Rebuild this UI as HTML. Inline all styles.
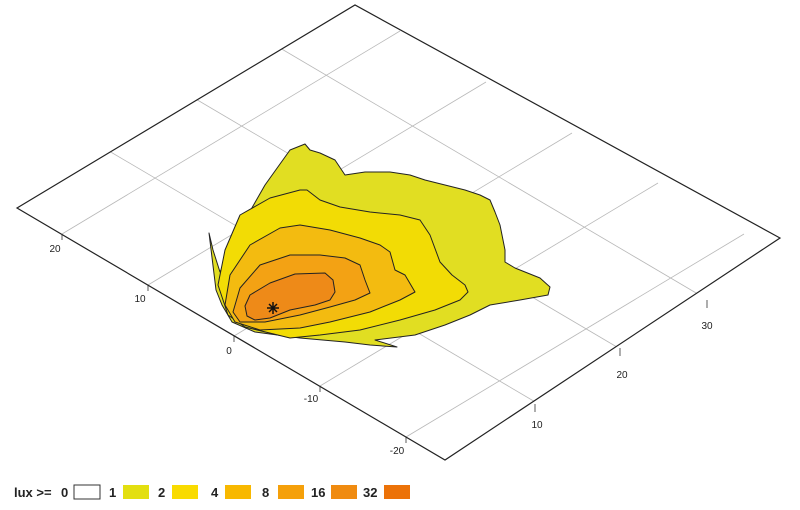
<!DOCTYPE html>
<html><head><meta charset="utf-8"><style>body{margin:0;background:#fff}svg{display:block}</style></head><body>
<svg width="800" height="510" viewBox="0 0 800 510" xmlns="http://www.w3.org/2000/svg" font-family="Liberation Sans, sans-serif">
<defs><clipPath id="pl"><polygon points="17,208 355,5 780,238 445,460"/></clipPath></defs>
<g clip-path="url(#pl)" stroke="#b8b8b8" stroke-width="0.8" fill="none">
<line x1="62" y1="234" x2="400" y2="31"/>
<line x1="148" y1="285" x2="486" y2="82"/>
<line x1="234" y1="336" x2="572" y2="133"/>
<line x1="320" y1="386" x2="658" y2="183"/>
<line x1="406" y1="437" x2="744" y2="234"/>
<line x1="537" y1="403" x2="109" y2="151"/>
<line x1="622" y1="350" x2="194" y2="98"/>
<line x1="708" y1="300" x2="280" y2="48"/>
</g>
<g stroke="#333" stroke-width="0.8">
<line x1="62" y1="234" x2="62" y2="240"/><line x1="148" y1="285" x2="148" y2="291"/><line x1="234" y1="336" x2="234" y2="342"/><line x1="320" y1="386" x2="320" y2="392"/><line x1="406" y1="437" x2="406" y2="443"/>
<line x1="535" y1="404" x2="535" y2="412"/><line x1="620" y1="348" x2="620" y2="356"/><line x1="707" y1="300" x2="707" y2="308"/>
</g>
<polygon points="17,208 355,5 780,238 445,460" fill="none" stroke="#222" stroke-width="1.2"/>
<g stroke="#222" stroke-width="1" stroke-linejoin="round">
<polygon fill="#e1de22" points="209,233 213,250 220,272 228,255 245,220 265,185 290,150 305,144 310,150 320,153 335,160 345,175 365,172 390,172 410,175 425,180 445,185 465,190 480,195 490,200 495,212 500,225 505,250 505,262 515,268 540,278 550,287 548,295 520,300 490,305 470,315 445,325 415,335 375,340 397,347 370,345 345,342 300,338 255,332 232,322 222,305 216,290"/>
<polygon fill="#f2dc05" points="218,285 225,250 240,215 270,198 300,190 307,190 320,200 340,207 370,212 400,215 420,220 430,235 440,262 452,275 465,285 468,292 460,300 435,310 400,320 360,330 320,335 290,338 245,327 228,315"/>
<polygon fill="#f3bb10" points="225,305 230,275 250,245 280,228 300,225 330,230 360,238 380,245 390,252 395,270 405,275 415,292 400,300 370,312 330,322 300,328 260,330 235,322"/>
<polygon fill="#f3a214" points="233,312 240,288 260,265 290,255 320,255 345,258 360,265 365,280 370,293 355,300 330,307 300,315 265,322 240,322"/>
<polygon fill="#ee8a18" points="245,306 250,295 270,283 295,274 325,273 333,280 335,292 330,300 315,305 290,310 270,318 255,320 247,316"/>
</g>
<g stroke="#111" stroke-width="1.5"><line x1="267" y1="308" x2="279" y2="308"/><line x1="273" y1="302" x2="273" y2="314"/><line x1="269" y1="304" x2="277" y2="312"/><line x1="277" y1="304" x2="269" y2="312"/></g>
<g font-size="10" fill="#222" text-anchor="middle">
<text x="55" y="252">20</text><text x="140" y="302">10</text><text x="229" y="354">0</text><text x="311" y="402">-10</text><text x="397" y="454">-20</text>
<text x="537" y="428">10</text><text x="622" y="378">20</text><text x="707" y="329">30</text>
</g>
<g font-size="13" font-weight="bold" fill="#222">
<text x="14" y="497">lux &gt;=</text><text x="61" y="497">0</text>
<rect x="74" y="485" width="26" height="14" fill="#fff" stroke="#333"/>
<text x="109" y="497">1</text><rect x="123" y="485" width="26" height="14" fill="#e3df10"/>
<text x="158" y="497">2</text><rect x="172" y="485" width="26" height="14" fill="#f9db00"/>
<text x="211" y="497">4</text><rect x="225" y="485" width="26" height="14" fill="#f8b800"/>
<text x="262" y="497">8</text><rect x="278" y="485" width="26" height="14" fill="#f5a00a"/>
<text x="311" y="497">16</text><rect x="331" y="485" width="26" height="14" fill="#f08b10"/>
<text x="363" y="497">32</text><rect x="384" y="485" width="26" height="14" fill="#ec7208"/>
</g>
</svg>
</body></html>
